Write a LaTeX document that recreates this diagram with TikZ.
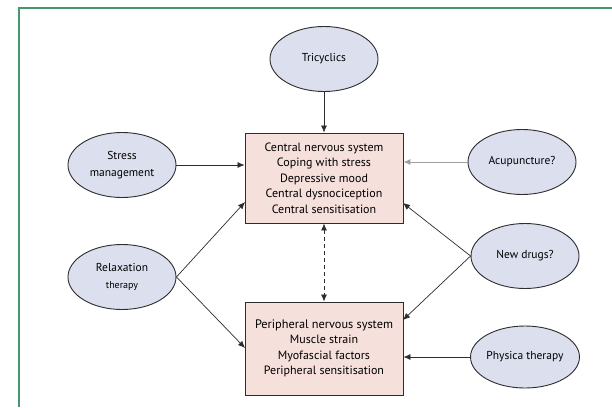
\documentclass[tikz,border=0pt]{standalone}
\usepackage{fontspec}
\setmainfont{PT Sans}
\usetikzlibrary{shapes.geometric,arrows.meta}
\definecolor{framegreen}{RGB}{70,150,110}
\definecolor{ellfill}{RGB}{220,223,238}
\definecolor{boxfill}{RGB}{245,224,220}
\definecolor{linegray}{RGB}{45,45,45}
\tikzset{
  therapy/.style={ellipse, draw=linegray, line width=0.9pt, fill=ellfill,
    minimum width=108pt, minimum height=65pt, inner sep=0pt, align=center,
    font=\fontsize{11.5}{17}\selectfont},
  sysbox/.style={rectangle, draw=linegray, line width=0.9pt, fill=boxfill,
    minimum width=158pt, align=center, inner sep=0pt,
    font=\fontsize{12}{15.5}\selectfont},
  arr/.style={draw=linegray, line width=0.7pt, -{Latex[length=7pt,width=6pt]}},
  garr/.style={draw=gray!75, line width=1pt, -{Latex[length=7pt,width=6pt]}},
  darr/.style={draw=linegray, line width=0.8pt, dash pattern=on 4pt off 3pt, {Latex[length=7pt,width=6pt]}-{Latex[length=7pt,width=6pt]}}
}
\begin{document}
\begin{tikzpicture}[x=1pt,y=-1pt]
\useasboundingbox (0,0) rectangle (612,407);
\fill[white] (0,0) rectangle (612,407);
\draw[framegreen, line width=1.2pt] (19,407) -- (19,8) -- (612,8);

\node[sysbox, minimum height=90pt] (cns) at (324,178)
  {Central nervous system\\Coping with stress\\Depressive mood\\Central dysnociception\\Central sensitisation};
\node[sysbox, minimum height=93pt] (pns) at (324,348.5)
  {\fontsize{12.3}{15.5}\selectfont Peripheral nervous system\\Muscle strain\\Myofascial factors\\Peripheral sensitisation};

\node[therapy] (tri) at (324,59) {Tricyclics};
\node[therapy] (stress) at (122,165) {Stress\\management};
\node[therapy] (relax) at (122,277) {Relaxation\\{\fontsize{10}{17}\selectfont therapy}};
\node[therapy] (acu) at (522,162) {Acupuncture?};
\node[therapy] (new) at (525,256) {New drugs?};
\node[therapy, minimum height=62pt] (phys) at (525,357) {Physica therapy};

\coordinate (cnsL) at (245,202);
\coordinate (pnsL) at (245,348);
\coordinate (cnsR) at (403,203);
\coordinate (pnsR) at (403,320);

\draw[arr] (tri) -- (cns);
\draw[arr] (stress.east) -- (stress.east -| cns.west);
\draw[arr] (relax.east) -- (cnsL);
\draw[arr] (relax.east) -- (pnsL);
\draw[garr] (acu.west) -- (acu.west -| cns.east);
\draw[arr] (new.west) -- (cnsR);
\draw[arr] (new.west) -- (pnsR);
\draw[arr] (phys.west) -- (phys.west -| pns.east);
\draw[darr] (cns.south) -- (pns.north);
\end{tikzpicture}
\end{document}
